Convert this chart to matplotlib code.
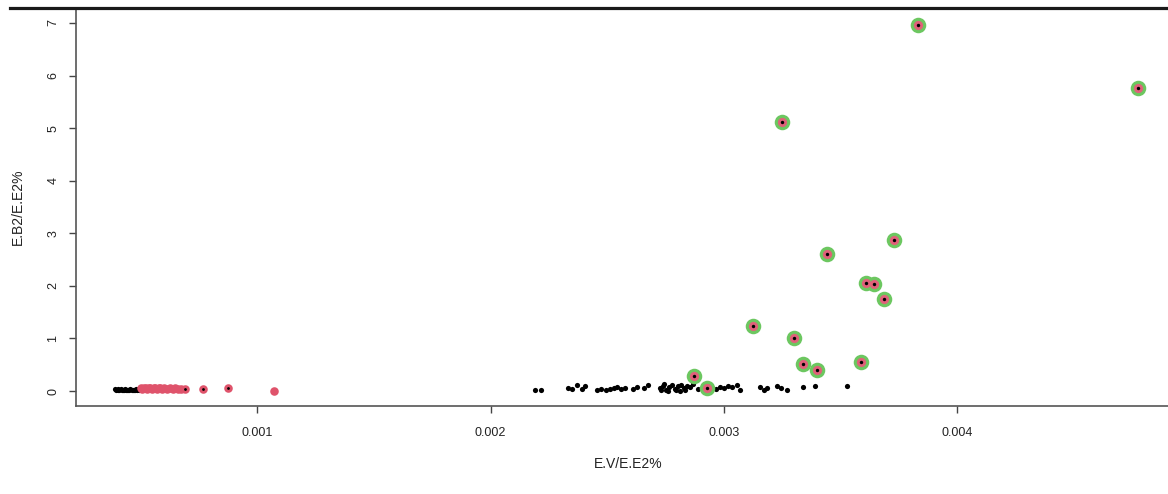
import matplotlib
matplotlib.use("Agg")
import matplotlib.pyplot as plt
from matplotlib.lines import Line2D

plt.rcParams['font.family'] = ['Liberation Sans', 'DejaVu Sans']

# all observations (black dots) - left cluster
black_left_x = [0.000390, 0.000396, 0.000401, 0.000404, 0.000409, 0.000414, 0.000418,
                0.000423, 0.000427, 0.000433, 0.000437, 0.000442, 0.000447, 0.000452,
                0.000456, 0.000461, 0.000466, 0.000471, 0.000476, 0.000480, 0.000486, 0.000491]
black_left_y = [0.03, 0.02, 0.03, 0.01, 0.02, 0.03, 0.02, 0.01, 0.02, 0.03, 0.02,
                0.02, 0.01, 0.02, 0.03, 0.02, 0.01, 0.02, 0.02, 0.03, 0.02, 0.02]

# right cluster of black dots
black_right_x = [0.002190, 0.002216, 0.002331, 0.002349, 0.002370, 0.002391, 0.002404,
                 0.002456, 0.002473, 0.002494, 0.002511, 0.002529, 0.002541, 0.002559,
                 0.002576, 0.002610, 0.002627, 0.002657, 0.002674, 0.002726, 0.002739,
                 0.002751, 0.002764, 0.002777, 0.002790, 0.002803, 0.002816, 0.002829,
                 0.002841, 0.002854, 0.002867, 0.002889, 0.002949, 0.002966, 0.002983,
                 0.003000, 0.003017, 0.003034, 0.003056, 0.003069, 0.003154, 0.003171,
                 0.003184, 0.003227, 0.003244, 0.003270, 0.003339, 0.003390, 0.003527,
                 0.002731, 0.002760, 0.002795, 0.002835, 0.002745, 0.002810]
black_right_y = [0.02, 0.02, 0.06, 0.03, 0.12, 0.04, 0.09, 0.01, 0.03, 0.02, 0.04,
                 0.05, 0.07, 0.03, 0.06, 0.03, 0.08, 0.05, 0.12, 0.06, 0.10, 0.02,
                 0.08, 0.11, 0.04, 0.09, 0.12, 0.05, 0.10, 0.07, 0.13, 0.04, 0.06,
                 0.03, 0.08, 0.05, 0.10, 0.07, 0.12, 0.02, 0.07, 0.02, 0.05, 0.09,
                 0.06, 0.01, 0.08, 0.10, 0.10, 0.01, 0.00, 0.02, 0.01, 0.13, 0.00]

# red group
red_x = [0.000500, 0.000507, 0.000513, 0.000521, 0.000528, 0.000534, 0.000541,
         0.000549, 0.000556, 0.000562, 0.000570, 0.000577, 0.000585, 0.000593,
         0.000600, 0.000612, 0.000624, 0.000637, 0.000648, 0.000660, 0.000675,
         0.000688, 0.000767, 0.000874, 0.001070]
red_y = [0.05, 0.04, 0.06, 0.05, 0.04, 0.06, 0.05, 0.04, 0.05, 0.06, 0.04, 0.05,
         0.06, 0.04, 0.05, 0.04, 0.05, 0.03, 0.05, 0.04, 0.03, 0.03, 0.03, 0.06, 0.00]

# highlighted outliers
out_x = [0.003831, 0.004774, 0.003249, 0.003729, 0.003441, 0.003609, 0.003643,
         0.003686, 0.003124, 0.003300, 0.003339, 0.003399, 0.003587, 0.002871, 0.002927]
out_y = [6.97, 5.76, 5.12, 2.87, 2.61, 2.05, 2.04, 1.75, 1.24, 1.01, 0.51, 0.40,
         0.55, 0.29, 0.06]

fig = plt.figure(figsize=(11.68, 4.94), dpi=100)
ax = fig.add_axes([76 / 1168, 88 / 494, 1 - 76 / 1168, 398 / 494])

ax.scatter(black_left_x, black_left_y, s=14, color='black', lw=0, zorder=2)
ax.scatter(black_right_x, black_right_y, s=14, color='black', lw=0, zorder=2)
ax.scatter(red_x, red_y, s=38, color='#DF536B', lw=0, zorder=3)
ax.scatter(red_x[-4:-1], red_y[-4:-1], s=4, color='black', lw=0, zorder=4)

ax.scatter(out_x, out_y, s=125, color='#6CC760', lw=0, zorder=5)
ax.scatter(out_x, out_y, s=44, color='#E0607A', lw=0, zorder=6)
ax.scatter(out_x, out_y, s=6, color='black', lw=0, zorder=7)

ax.set_xlim(0.000223, 0.004903)
ax.set_ylim(-0.285, 7.285)
ax.set_xticks([0.001, 0.002, 0.003, 0.004])
ax.set_xticklabels(['0.001', '0.002', '0.003', '0.004'])
ax.set_yticks(range(8))

for side in ['top', 'right']:
    ax.spines[side].set_visible(False)
for side in ['left', 'bottom']:
    ax.spines[side].set_color('#555555')
    ax.spines[side].set_linewidth(1.2)

ax.tick_params(axis='both', length=5, width=1, color='#444444', labelsize=9,
               labelcolor='#222222', pad=10)
ax.tick_params(axis='y', labelrotation=90, pad=7)
for lab in ax.get_yticklabels():
    lab.set_va('center')

ax.set_xlabel('E.V/E.E2%', fontsize=10, color='#222222')
ax.xaxis.set_label_coords((628 - 76) / 1092, -0.128)
ax.set_ylabel('E.B2/E.E2%', fontsize=10, color='#222222')
ax.yaxis.set_label_coords(-(76 - 25) / 1092, 0.5)

fig.add_artist(Line2D([10 / 1168, 1], [486 / 494, 486 / 494], lw=2.3,
                      color='#1a1a1a', transform=fig.transFigure))

fig.savefig('out.png', dpi=100)
